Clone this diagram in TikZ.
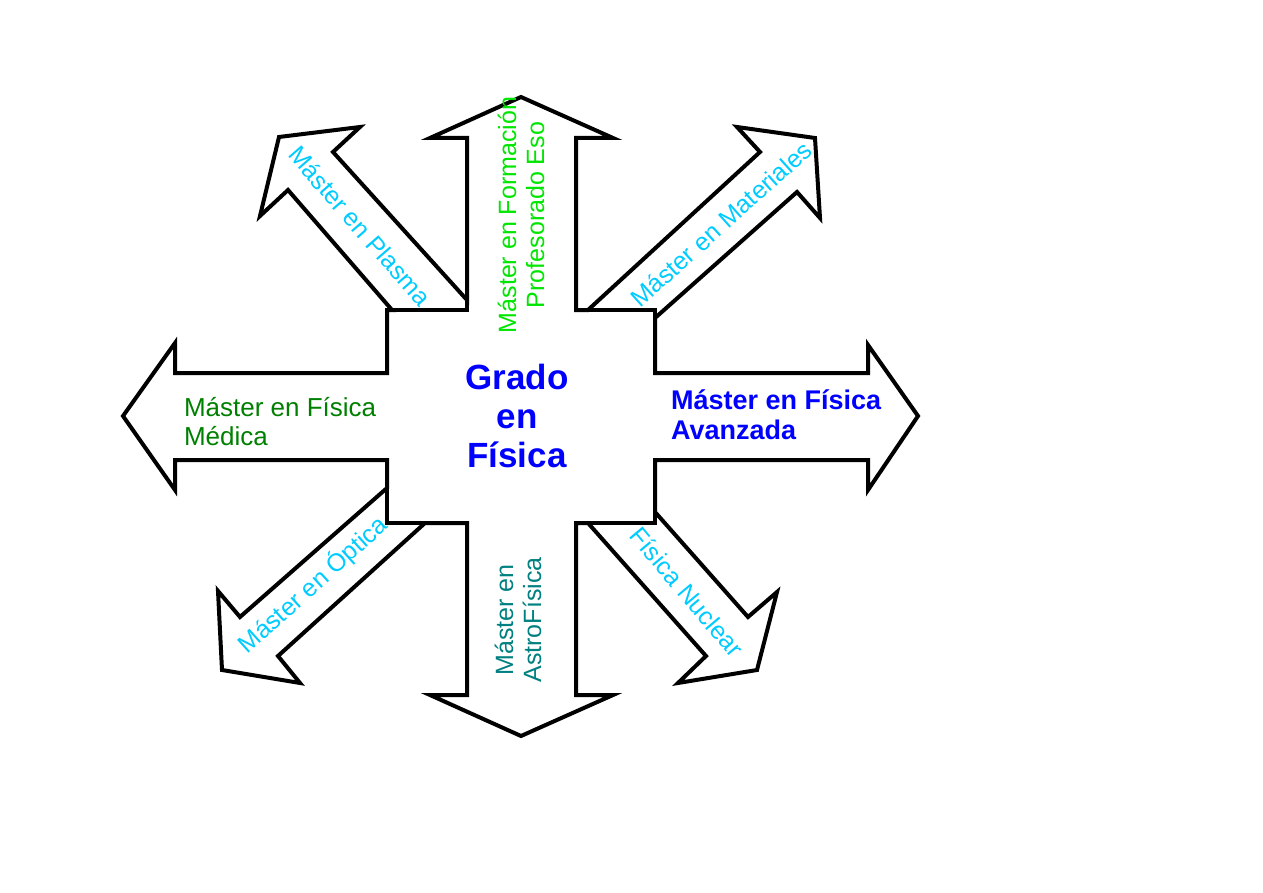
\documentclass[tikz,border=0pt]{standalone}
\usepackage{fontspec}
\setmainfont{Liberation Sans}
\begin{document}
\begin{tikzpicture}[x=1pt,y=-1pt,line width=4pt,line join=miter,
 t/.style={font=\fontsize{25}{28}\selectfont,inner sep=0pt},
 tb/.style={inner sep=0pt,font=\fontsize{27}{30}\selectfont\bfseries}]
\useasboundingbox (0,0) rectangle (1263,893);
\fill[white] (0,0) rectangle (1263,893);
\draw (521,97) -- (613,138) -- (576,138) -- (576,310) -- (588,310) -- (760,152) -- (737,127) -- (815,138) -- (820,218) -- (797,192) -- (655,318) -- (655,373) -- (868,373) -- (868,345) -- (918,416) -- (868,490) -- (868,460) -- (655,460) -- (655,512) -- (748,617) -- (777,592) -- (757,670) -- (678,683) -- (706,656) -- (588,523) -- (576,523) -- (576,695) -- (613,695) -- (521,736) -- (430,695) -- (467,695) -- (467,523) -- (425,523) -- (278,656) -- (300,683) -- (222,670) -- (218,591) -- (240,617) -- (387,488) -- (387,460) -- (175,460) -- (175,490) -- (123,416) -- (175,343) -- (175,373) -- (387,373) -- (387,310) -- (392,310) -- (288,190) -- (260,216) -- (279,137) -- (360,127) -- (333,152) -- (467,300) -- (467,138) -- (430,138) -- cycle;
\draw (392,310) -- (467,310) -- (467,300);
\draw (588,310) -- (655,310) -- (655,318);
\draw (387,488) -- (387,523) -- (425,523);
\draw (588,523) -- (655,523) -- (655,512);
\definecolor{cy}{RGB}{0,204,255}
\node[t,text=cy,rotate=-49] (pl) at (360,226) {Máster en Plasma};
\node[t,text=cy,rotate=42] (ma) at (721,224) {Máster en Materiales};
\node[t,text=cy,rotate=42] (op) at (313,585) {Máster en Óptica};
\node[t,text=cy,rotate=-50] (nu) at (687,592) {Física Nuclear};
\node[t,text={rgb,255:red,0;green,230;blue,0},rotate=90,align=center] (fo) at (521,215) {Máster en Formación\\Profesorado Eso};
\node[t,text={rgb,255:red,0;green,128;blue,128},rotate=90,align=center] (as) at (518,620) {Máster en\\AstroFísica};
\node[t,text={rgb,255:red,0;green,128;blue,0},align=left,anchor=west,font=\fontsize{26}{29}\selectfont] (me) at (182,422) {Máster en Física\\Médica};
\node[tb,text=blue,align=left,anchor=west] (av) at (669,415) {Máster en Física\\Avanzada};
\node[inner sep=0pt,text=blue,align=center,font=\fontsize{35}{39}\selectfont\bfseries] (gr) at (517,416) {Grado\\en\\ Física};
\end{tikzpicture}
\end{document}
